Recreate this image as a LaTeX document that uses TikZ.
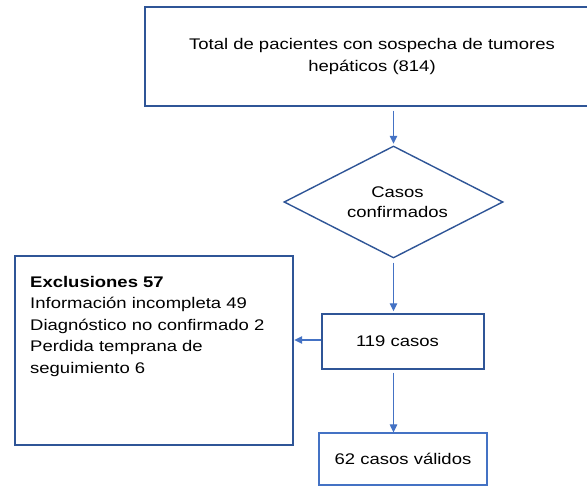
\documentclass[tikz,border=0pt]{standalone}
\usepackage{fontspec}
\setmainfont{Liberation Sans}[FakeStretch=1.2]
\usetikzlibrary{shapes.geometric,arrows.meta}
\definecolor{boxblue}{HTML}{2F5597}
\definecolor{lineblue}{HTML}{4472C4}
\tikzset{
  box/.style={draw=boxblue, line width=1.4pt, rectangle, inner sep=0pt, align=center,
    font=\fontsize{15.4pt}{22.5pt}\selectfont},
  dbox/.style={draw=boxblue, line width=1.4pt, diamond, inner sep=0pt, align=center,
    font=\fontsize{15.4pt}{20.5pt}\selectfont},
  lbl/.style={inner sep=0pt, align=left, font=\fontsize{15.4pt}{21.5pt}\selectfont},
  flow/.style={draw=lineblue, line width=1.2pt, -{Triangle[length=8pt,width=7.5pt]}}
}
\begin{document}
\begin{tikzpicture}[x=1pt,y=-1pt]
\clip (0,0) rectangle (587,486);
\fill[white] (0,0) rectangle (587,486);
% top box (extends beyond right edge)
\node[box, minimum width=454pt, minimum height=99pt] (top) at (372,56.5)
  {Total de pacientes con sospecha de tumores\\hepáticos (814)};
% decision diamond
\node[dbox, minimum width=219pt, minimum height=112pt, aspect=1.955] (dia) at (393.5,202)
  {\hspace*{8pt}Casos\\\hspace*{8pt}confirmados};
% 119 casos
\node[box, minimum width=162pt, minimum height=55pt] (n119) at (403,341.5)
  {\hspace*{-11pt}119 casos};
% 62 casos validos
\node[box, draw=lineblue, line width=1.2pt, minimum width=168pt, minimum height=52pt] (n62) at (403,459)
  {62 casos válidos};
% exclusions
\node[box, minimum width=278pt, minimum height=189pt] (excl) at (154,350.5) {};
\node[lbl, anchor=north west] (excltxt) at (30,276)
  {\textbf{Exclusiones 57}\\Información incompleta 49\\Diagnóstico no confirmado 2\\Perdida temprana de\\seguimiento 6};
% connectors
\draw[flow, shorten <=4pt, shorten >=1.5pt] (dia.north |- top.south) -- (dia.north);
\draw[flow, shorten <=4pt, shorten >=2pt] (dia.south) -- (dia.south |- n119.north);
\draw[flow, shorten <=3pt] (dia.south |- n119.south) -- (dia.south |- n62.north);
\draw[flow, shorten >=0.5pt] (n119.west |- 0,340) -- (excl.east |- 0,340);
\end{tikzpicture}
\end{document}
